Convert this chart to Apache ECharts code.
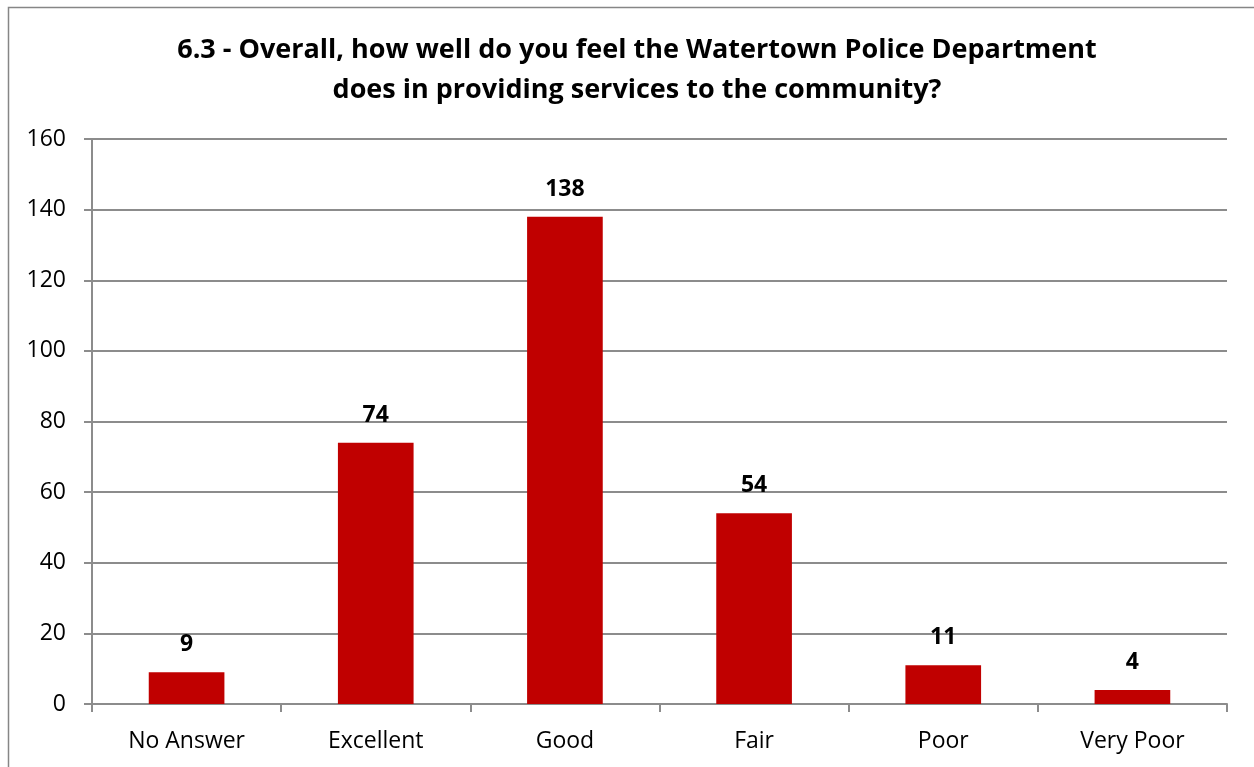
<!DOCTYPE html>
<html>
<head>
<meta charset="utf-8">
<script src="https://cdn.jsdelivr.net/npm/echarts@6/dist/echarts.min.js"></script>
<style>
  html, body { margin: 0; padding: 0; background: #fff; }
  #main { width: 1254px; height: 767px; }
</style>
</head>
<body>
<div id="main"></div>
<script>
const categories = ['No Answer', 'Excellent', 'Good', 'Fair', 'Poor', 'Very Poor']
const counts = [9, 74, 138, 54, 11, 4]
const yTicks = [0, 20, 40, 60, 80, 100, 120, 140, 160]

const font = '"Open Sans", sans-serif'
const gridColor = '#8c8c8c'

let chart = echarts.init(document.getElementById('main'))
chart.setOption({
  backgroundColor: '#fff',
  textStyle: { fontFamily: font },
  title: {
    text: '6.3 - Overall, how well do you feel the Watertown Police Department\ndoes in providing services to the community?',
    left: 632,
    top: 25,
    textAlign: 'center',
    textStyle: { fontSize: 27, fontWeight: 'bold', color: '#000', lineHeight: 40, fontFamily: font }
  },
  graphic: [{
    type: 'rect',
    shape: { x: 8.5, y: 7.5, width: 1260, height: 780 },
    style: { fill: 'none', stroke: '#868686', lineWidth: 1.5 },
    silent: true
  }],
  grid: { left: 92, right: 27, top: 139, bottom: 63 },
  xAxis: {
    type: 'category',
    data: categories,
    axisLine: { lineStyle: { color: gridColor, width: 2 } },
    axisTick: { show: true, length: 8, alignWithLabel: false, lineStyle: { color: gridColor, width: 2 } },
    axisLabel: { fontSize: 23, color: '#000', margin: 26, fontFamily: font }
  },
  yAxis: {
    type: 'value',
    min: yTicks[0],
    max: yTicks[yTicks.length - 1],
    interval: 20,
    axisLine: { show: true, lineStyle: { color: gridColor, width: 2 } },
    axisTick: { show: true, length: 8, lineStyle: { color: gridColor, width: 2 } },
    splitLine: { lineStyle: { color: gridColor, width: 2 } },
    axisLabel: { fontSize: 23, color: '#000', margin: 26, fontFamily: font }
  },
  series: [{
    type: 'bar',
    data: counts,
    barWidth: '40%',
    itemStyle: { color: '#c00000' },
    label: {
      show: true,
      position: 'top',
      distance: 16,
      fontSize: 23,
      fontWeight: 'bold',
      color: '#000',
      fontFamily: font
    }
  }]
})
</script>
</body>
</html>
